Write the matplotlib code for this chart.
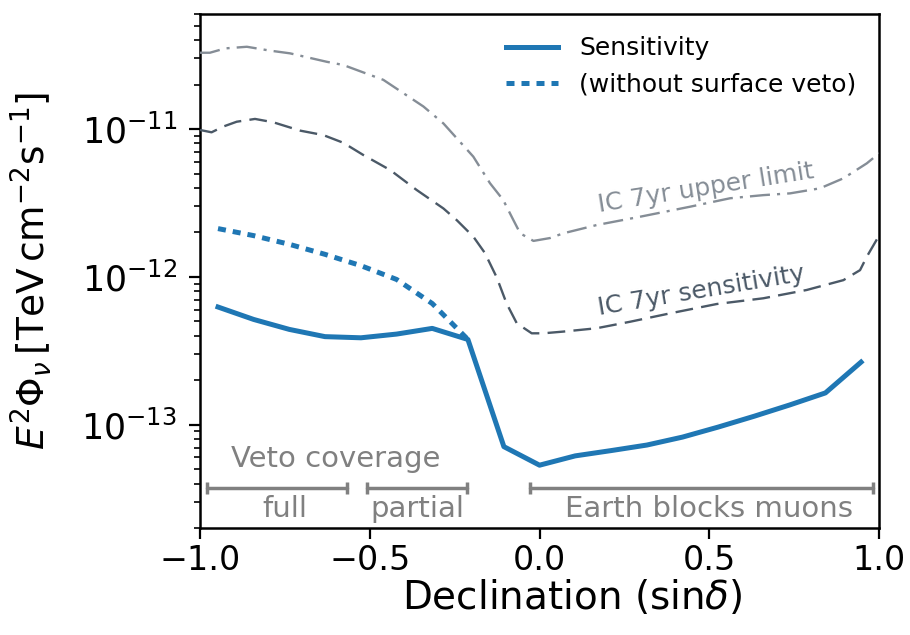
import matplotlib
matplotlib.use("Agg")
import matplotlib.pyplot as plt

# ---------------- data ----------------
sindec = [-0.947, -0.842, -0.737, -0.632, -0.526, -0.421, -0.316, -0.211, -0.105,
          0.0, 0.105, 0.211, 0.316, 0.421, 0.526, 0.632, 0.737, 0.842, 0.947]
sens = [6.25e-13, 5.15e-13, 4.41e-13, 3.94e-13, 3.87e-13, 4.10e-13, 4.48e-13, 3.77e-13,
        7.1e-14, 5.32e-14, 6.15e-14, 6.68e-14, 7.28e-14, 8.24e-14, 9.63e-14, 1.14e-13,
        1.36e-13, 1.64e-13, 2.65e-13]

sindec_noveto = [-0.947, -0.842, -0.737, -0.632, -0.526, -0.421, -0.316, -0.211]
sens_noveto = [2.12e-12, 1.90e-12, 1.66e-12, 1.42e-12, 1.19e-12, 9.6e-13, 6.6e-13, 3.77e-13]

ic_sens_x = [-1.0, -0.966, -0.931, -0.892, -0.838, -0.784, -0.705, -0.637, -0.578, -0.519,
             -0.440, -0.362, -0.283, -0.244, -0.195, -0.161, -0.126, -0.097, -0.067, -0.023,
             0.011, 0.069, 0.168, 0.267, 0.384, 0.522, 0.659, 0.787, 0.895, 0.944, 0.964, 1.0]
ic_sens_y = [9.85e-12, 9.5e-12, 1.04e-11, 1.12e-11, 1.17e-11, 1.11e-11, 9.75e-12, 9.1e-12,
             8.07e-12, 6.67e-12, 5.28e-12, 3.87e-12, 2.90e-12, 2.42e-12, 1.87e-12, 1.45e-12,
             9.9e-13, 6.6e-13, 4.85e-13, 4.15e-13, 4.15e-13, 4.26e-13, 4.49e-13, 4.97e-13,
             5.66e-13, 6.55e-13, 7.16e-13, 8.15e-13, 9.5e-13, 1.11e-12, 1.37e-12, 1.90e-12]

ic_ul_x = [-1.0, -0.971, -0.926, -0.862, -0.794, -0.735, -0.627, -0.578, -0.460, -0.342,
           -0.283, -0.195, -0.146, -0.107, -0.077, -0.057, -0.018, 0.031, 0.070, 0.168,
           0.296, 0.443, 0.561, 0.659, 0.738, 0.826, 0.895, 0.964, 1.0]
ic_ul_y = [3.28e-11, 3.28e-11, 3.51e-11, 3.60e-11, 3.39e-11, 3.25e-11, 2.85e-11, 2.71e-11,
           2.15e-11, 1.42e-11, 1.09e-11, 6.5e-12, 4.30e-12, 3.31e-12, 2.42e-12, 1.97e-12,
           1.75e-12, 1.83e-12, 1.97e-12, 2.24e-12, 2.55e-12, 2.98e-12, 3.40e-12, 3.57e-12,
           3.67e-12, 3.97e-12, 4.64e-12, 5.86e-12, 6.85e-12]

region_labels = ["full", "partial", "Earth blocks muons"]
region_start = [-0.979, -0.508, -0.028]
region_end = [-0.567, -0.215, 0.983]
region_text_x = [-0.75, -0.36, 0.50]

x_ticks = [-1.0, -0.5, 0.0, 0.5, 1.0]
y_ticks = [1e-13, 1e-12, 1e-11]

# ---------------- figure ----------------
fig = plt.figure(figsize=(9.1, 6.35), dpi=100)
ax = fig.add_axes([0.2198, 0.1685, 0.7462, 0.8095])

blue = "#1f77b4"
c_sens = "#4b5967"
c_ul = "#858d96"
grey = "#808080"

ax.plot(sindec, sens, color=blue, lw=3.6, label="Sensitivity", zorder=5)
ax.plot(sindec_noveto, sens_noveto, color=blue, lw=3.6, linestyle=(0, (1.6, 1.4)),
        label="(without surface veto)", zorder=4)
ax.plot(ic_sens_x, ic_sens_y, color=c_sens, lw=1.7, linestyle=(0, (7.5, 3.5)), zorder=3)
ax.plot(ic_ul_x, ic_ul_y, color=c_ul, lw=1.7, linestyle=(0, (8.5, 3.0, 1.3, 3.0)), zorder=3)

ax.set_yscale("log")
ax.set_xlim(-1, 1)
ax.set_ylim(2e-14, 6e-11)
ax.set_xticks(x_ticks)
ax.set_yticks(y_ticks)

ax.text(0.490, 4.0e-12, "IC 7yr upper limit", color=c_ul, fontsize=18,
        rotation=9, ha="center", va="center")
ax.text(0.476, 8.0e-13, "IC 7yr sensitivity", color=c_sens, fontsize=18,
        rotation=9.5, ha="center", va="center")

# veto coverage annotations
ax.text(-0.60, 5.16e-14, "Veto coverage", color=grey, fontsize=21, ha="center", va="baseline")
for lab, x0, x1, xt in zip(region_labels, region_start, region_end, region_text_x):
    ax.plot([x0, x1], [3.72e-14, 3.72e-14], color=grey, lw=2.5, marker="|",
            markersize=9, markeredgewidth=2.5, solid_capstyle="round")
    ax.text(xt, 2.37e-14, lab, color=grey, fontsize=21, ha="center", va="baseline")

ax.set_xlabel(r"Declination (sin$\delta$)", fontsize=28, labelpad=0.5)
ax.xaxis.label.set_x(0.548)
ax.set_ylabel(r"$E^2\Phi_\nu\,[\mathrm{TeV\,cm^{-2}s^{-1}}]$", fontsize=27, labelpad=20)

ax.tick_params(which="major", length=8, width=1.6, labelsize=24, direction="out")
ax.tick_params(axis="y", which="major", pad=8.5, labelsize=25)
ax.tick_params(which="minor", length=4.5, width=1.2, direction="out")
for s in ax.spines.values():
    s.set_linewidth(1.8)

ax.legend(loc="upper right", frameon=False, fontsize=18, handlelength=2.1,
          handletextpad=0.85, labelspacing=0.5)

fig.savefig("out.png", dpi=100)
